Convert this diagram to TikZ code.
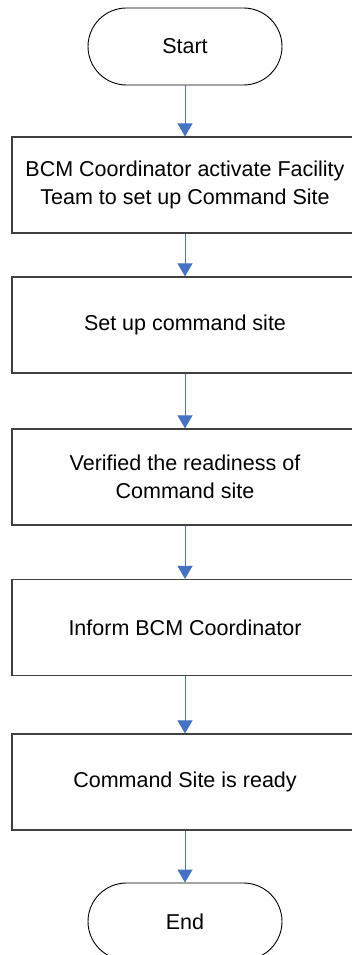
\documentclass[tikz,border=0pt]{standalone}
\usepackage{fontspec}
\setmainfont{Liberation Sans}
\usetikzlibrary{arrows.meta}
\definecolor{flowblue}{HTML}{4472C4}
\definecolor{boxgray}{HTML}{404040}
\begin{document}
\begin{tikzpicture}[x=1pt,y=-1pt,
  terminal/.style={draw=black, rounded corners=38.5pt, minimum width=194pt, minimum height=77pt, line width=0.9pt, font=\fontsize{21.5}{28}\selectfont},
  process/.style={draw=boxgray, rectangle, minimum width=346pt, minimum height=96pt, line width=1.2pt, align=center, font=\fontsize{21.5}{28}\selectfont},
  flow/.style={draw=flowblue, line width=0.9pt, -{Triangle[width=15pt,length=13pt]}}]
\useasboundingbox (0,0) rectangle (352,955);
\clip (0,0) rectangle (352,955);
\node[terminal] (start) at (185,46.5) {Start};
\node[process] (activate) at (185,185) {BCM Coordinator activate Facility\\Team to set up Command Site};
\node[process] (setup) at (185,325) {Set up command site};
\node[process] (verify) at (185,477) {Verified the readiness of\\Command site};
\node[process] (inform) at (185,627.5) {Inform BCM Coordinator};
\node[process] (ready) at (185,782) {Command Site is ready};
\node[terminal] (end) at (185,921.5) {End};

\path[flow] (start) -- (activate);
\path[flow] (activate) -- (setup);
\path[flow] (setup) -- (verify);
\path[flow] (verify) -- (inform);
\path[flow] (inform) -- (ready);
\path[flow] (ready) -- (end);
\end{tikzpicture}
\end{document}
